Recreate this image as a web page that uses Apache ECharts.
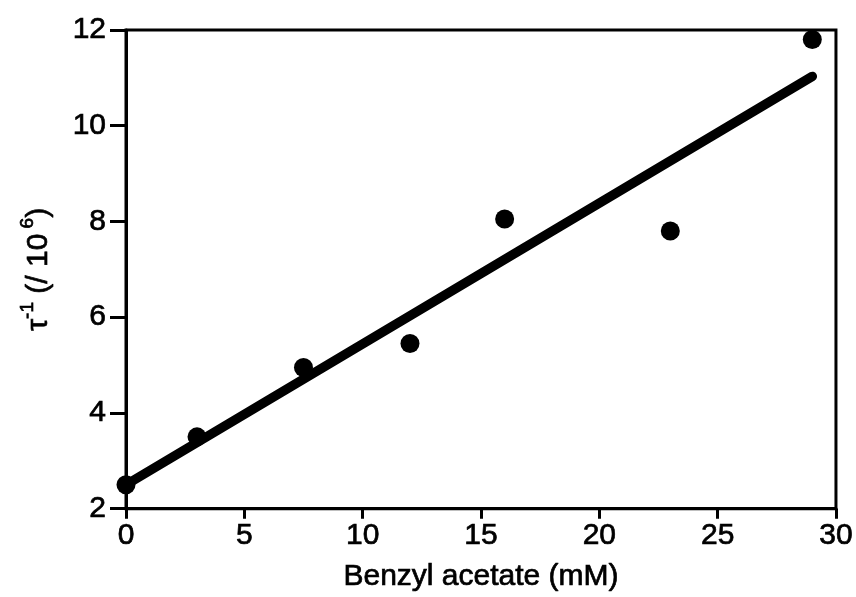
<!DOCTYPE html>
<html><head><meta charset="utf-8">
<script src="https://cdn.jsdelivr.net/npm/echarts@6/dist/echarts.min.js"></script>
<style>html,body{margin:0;padding:0;background:#fff}#c{width:856px;height:597px}</style>
</head><body><div id="c"></div>
<script>
const concentrations = [0, 3, 7.5, 12, 16, 23, 29];
const rates = [2.5, 3.5, 4.95, 5.45, 8.05, 7.8, 11.8];
const fitX = [0, 29];
const fitY = [2.5, 11.03];
const xTickLabels = ['0', '5', '10', '15', '20', '25', '30'];
const yTickLabels = ['2', '4', '6', '8', '10', '12'];
const xTitle = 'Benzyl acetate (mM)';

const FONT = "'Liberation Sans', Arial, Helvetica, sans-serif";
const thick = {textBorderColor: '#000', textBorderWidth: 0.7};
const chart = echarts.init(document.getElementById('c'), null, {renderer: 'canvas'});
chart.setOption({
  animation: false,
  backgroundColor: '#fff',
  grid: {left: 126, top: 30, width: 710, height: 484, show: true, borderColor: '#000', borderWidth: 3, backgroundColor: 'transparent'},
  xAxis: {
    type: 'value', min: 0, max: 30, interval: 5,
    name: xTitle, nameLocation: 'middle', nameGap: 53,
    nameTextStyle: Object.assign({fontFamily: FONT, fontSize: 30, color: '#000'}, thick),
    axisLine: {show: true, lineStyle: {color: '#000', width: 3}},
    axisTick: {show: true, inside: false, length: 10, lineStyle: {color: '#000', width: 3}},
    axisLabel: Object.assign({margin: 12, fontFamily: FONT, fontSize: 30, color: '#000',
      formatter: v => xTickLabels[xTickLabels.indexOf(String(v))] || ''}, thick),
    splitLine: {show: false}
  },
  yAxis: {
    type: 'value', min: 2, max: 12, interval: 2,
    name: '{t|τ}{s|-1}{t| (/ 10}{s| 6}{t|)}', nameLocation: 'middle', nameGap: 72, nameRotate: 90,
    nameTextStyle: {
      fontFamily: FONT, color: '#000',
      rich: {
        t: Object.assign({fontFamily: FONT, fontSize: 30, color: '#000', lineHeight: 36, verticalAlign: 'bottom'}, thick),
        s: Object.assign({fontFamily: FONT, fontSize: 19, color: '#000', lineHeight: 36, verticalAlign: 'top'}, thick)
      }
    },
    axisLine: {show: true, lineStyle: {color: '#000', width: 3}},
    axisTick: {show: true, inside: false, length: 16, lineStyle: {color: '#000', width: 3}},
    axisLabel: Object.assign({margin: 20, fontFamily: FONT, fontSize: 30, color: '#000',
      formatter: v => yTickLabels[yTickLabels.indexOf(String(v))] || ''}, thick),
    splitLine: {show: false}
  },
  series: [
    {
      type: 'line', data: fitX.map((x, i) => [x, fitY[i]]),
      showSymbol: false, symbol: 'none',
      lineStyle: {color: '#000', width: 9.5, cap: 'round'}, z: 2
    },
    {
      type: 'scatter', data: concentrations.map((x, i) => [x, rates[i]]),
      symbol: 'circle', symbolSize: 19,
      itemStyle: {color: '#000', opacity: 1}, z: 3
    }
  ]
});
</script>
</body></html>
